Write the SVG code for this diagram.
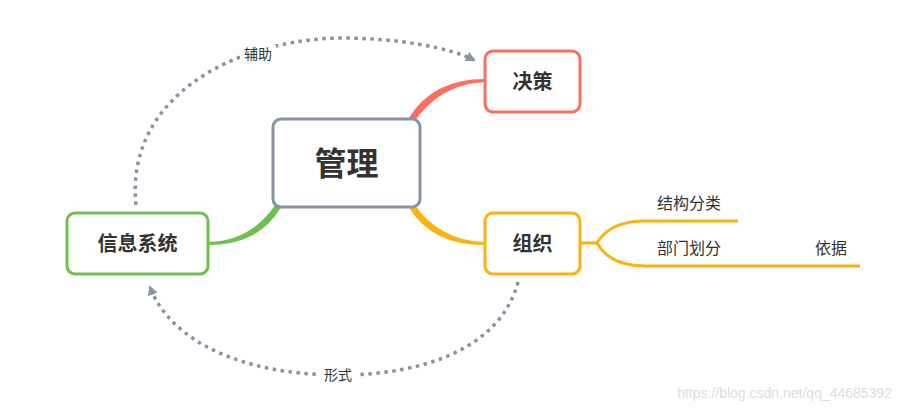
<svg xmlns="http://www.w3.org/2000/svg" width="901" height="411" viewBox="0 0 901 411">
<style>
.t{font-family:"Noto Sans CJK SC","Liberation Sans",sans-serif;fill:#333;}
.b{font-weight:bold;}
.box{fill:#fff;stroke-width:3;}
.dot{fill:none;stroke:#8a93a3;stroke-width:3.5;stroke-dasharray:3.5 4.5;}
</style>
<defs>
<marker id="ah" markerWidth="10" markerHeight="10" refX="8" refY="5" orient="auto" markerUnits="userSpaceOnUse" viewBox="0 0 10 10">
<path d="M0,0 L10,5 L0,10 z" fill="#8a93a3"/>
</marker>
</defs>
<rect width="901" height="411" fill="#fff"/>
<g id="connectors">
<path d="M413,122 Q438,84 484,81 L484,80 Q434,80 410,118 z" fill="#fc6f5f" stroke="#fc6f5f" stroke-width="2"/>
<path d="M413,204 Q438,241 484,243 L484,244 Q432,244 410,207 z" fill="#fbb40f" stroke="#fbb40f" stroke-width="2"/>
<path d="M277,204 Q252,242 209,243 L209,244 Q258,244 280,207 z" fill="#6ec04f" stroke="#6ec04f" stroke-width="2"/>
<g fill="none" stroke="#fbb40f" stroke-width="3">
<path d="M580,243 L597,243 Q610,221 645,221 L738,221"/>
<path d="M597,243 Q610,266 645,266 L860,266"/>
</g>
<path class="dot" d="M136,205 C125,100 230,40 340,38 C400,38 450,48 474,60" marker-end="url(#ah)"/>
<path class="dot" d="M518,282 C500,350 420,375 340,375 C240,375 170,340 150,287" marker-end="url(#ah)"/>
<rect x="240" y="45" width="36" height="18" fill="#fff"/>
<text class="t" x="258" y="59" font-size="14" text-anchor="middle">辅助</text>
<rect x="320" y="366" width="36" height="18" fill="#fff"/>
<text class="t" x="338" y="380" font-size="14" text-anchor="middle">形式</text>
</g>
<g id="n-guanli">
<rect class="box" x="273" y="119" width="147" height="88" rx="8" stroke="#8a93a3" stroke-width="4"/>
<text class="t b" x="346.5" y="175" font-size="32" text-anchor="middle">管理</text>
</g>
<g id="n-juece">
<rect class="box" x="485" y="51" width="95" height="61" rx="8" stroke="#fc6f5f"/>
<text class="t b" x="532.5" y="89" font-size="20" text-anchor="middle">决策</text>
</g>
<g id="n-zuzhi">
<rect class="box" x="485" y="213" width="95" height="61" rx="8" stroke="#fbb40f"/>
<text class="t b" x="532.5" y="251" font-size="20" text-anchor="middle">组织</text>
</g>
<g id="n-xinxi">
<rect class="box" x="67" y="213" width="141" height="61" rx="8" stroke="#6ec04f"/>
<text class="t b" x="137.5" y="251" font-size="20" text-anchor="middle">信息系统</text>
</g>
<g id="n-jiegou"><text class="t" x="657" y="209" font-size="16" fill="#444">结构分类</text></g>
<g id="n-bumen"><text class="t" x="657" y="254" font-size="16" fill="#444">部门划分</text></g>
<g id="n-yiju"><text class="t" x="815" y="254" font-size="16" fill="#444">依据</text></g>
<text x="892" y="398" font-family="Liberation Sans,sans-serif" font-size="14" fill="#ddd" text-anchor="end">https://blog.csdn.net/qq_44685392</text>
</svg>
